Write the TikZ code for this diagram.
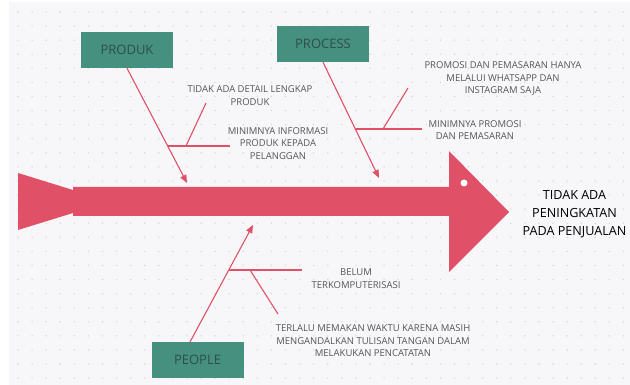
\documentclass[tikz,border=0pt]{standalone}
\usepackage{fontspec}
\setmainfont{Open Sans}
\usetikzlibrary{arrows.meta}
\definecolor{fishred}{HTML}{E05066}
\definecolor{boxteal}{HTML}{45907F}
\definecolor{boxtext}{HTML}{2F4F49}
\definecolor{bggray}{HTML}{F7F7F9}
\definecolor{dotgray}{HTML}{D6D6DC}
\definecolor{notegray}{HTML}{555555}
\tikzset{
	category/.style={fill=boxteal, minimum width=92pt, minimum height=36pt, inner sep=0pt, text=boxtext, font=\fontsize{13}{15}\selectfont},
	bone/.style={draw=fishred, line width=1.1pt},
	mainbone/.style={bone, -{Triangle[length=8pt,width=6.5pt]}},
	cause/.style={text=notegray, align=center, inner sep=0pt, font=\fontsize{9.5}{12.5}\selectfont},
	effect/.style={text=black, align=center, inner sep=0pt, font=\fontsize{12.6}{18}\selectfont}
}
\begin{document}
\begin{tikzpicture}[x=1pt,y=-1pt]
		\useasboundingbox (0,0) rectangle (630,385);
		\fill[bggray] (9,2) rectangle (630,385);
		\foreach \i in {0,...,44}
			\foreach \j in {0,...,27}
				\fill[dotgray] (18+\i*14.08, 12+\j*14.08) circle (0.8pt);
		\fill[fishred] (18,173) -- (73,190) -- (73,187) -- (449,187) -- (449,151) -- (509,212)
			-- (449,272) -- (449,216) -- (73,216) -- (73,213) -- (18,230) -- cycle;
		\fill[white] (464,183) circle (3.5pt);
		\node[category] (produk) at (127,50) {PRODUK};
		\node[category] (process) at (323,44) {PROCESS};
		\node[category] (people) at (197.5,360) {PEOPLE};
		\node[effect] (result) at (574.5,214) {TIDAK ADA\\PENINGKATAN\\PADA PENJUALAN};
		\node[cause] (detail) at (250,95.5) {TIDAK ADA DETAIL LENGKAP\\PRODUK};
		\node[cause] (info) at (278,143.5) {MINIMNYA INFORMASI\\PRODUK KEPADA\\PELANGGAN};
		\node[cause] (wa) at (503,78.5) {PROMOSI DAN PEMASARAN HANYA\\MELALUI WHATSAPP DAN\\INSTAGRAM SAJA};
		\node[cause] (promo) at (475,130) {MINIMNYA PROMOSI\\DAN PEMASARAN};
		\node[cause] (komputer) at (356,278.5) {BELUM\\TERKOMPUTERISASI};
		\node[cause] (tulisan) at (373,341) {TERLALU MEMAKAN WAKTU KARENA MASIH\\MENGANDALKAN TULISAN TANGAN DALAM\\MELAKUKAN PENCATATAN};
		\coordinate (produk end) at (187,183);
		\coordinate (produk fork) at (168,146);
		\coordinate (produk twig) at (186,146);
		\coordinate (info end) at (230,146);
		\coordinate (detail end) at (206,103);
		\coordinate (process end) at (379,178);
		\coordinate (process fork) at (355.5,129);
		\coordinate (process twig) at (383,129);
		\coordinate (promo end) at (422,129);
		\coordinate (wa end) at (408,88);
		\coordinate (people start) at (190,342);
		\coordinate (people end) at (253,225);
		\coordinate (people fork) at (229,270);
		\coordinate (people twig) at (250,270);
		\coordinate (komputer end) at (302,270);
		\coordinate (tulisan end) at (278,314);
		\draw[mainbone] (produk.south) -- (produk end);
		\draw[bone] (produk fork) -- (info end);
		\draw[bone] (produk twig) -- (detail end);
		\draw[mainbone] (process.south) -- (process end);
		\draw[bone] (process fork) -- (promo end);
		\draw[bone] (process twig) -- (wa end);
		\draw[mainbone] (people start) -- (people end);
		\draw[bone] (people fork) -- (komputer end);
		\draw[bone] (people twig) -- (tulisan end);
	\end{tikzpicture}
\end{document}
